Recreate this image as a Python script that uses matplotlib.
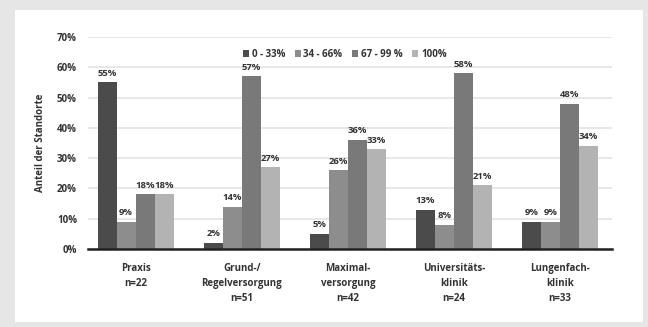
import numpy as np
import matplotlib.pyplot as plt
from matplotlib.patches import Rectangle

categories = ["Praxis\nn=22", "Grund-/\nRegelversorgung\nn=51", "Maximal-\nversorgung\nn=42",
              "Universitäts-\nklinik\nn=24", "Lungenfach-\nklinik\nn=33"]
series = ["0 - 33%", "34 - 66%", "67 - 99 %", "100%"]
values = [
    [55, 2, 5, 13, 9],
    [9, 14, 26, 8, 9],
    [18, 57, 36, 58, 48],
    [18, 27, 33, 21, 34],
]
colors = ["#4b4b4b", "#8d8d8d", "#797979", "#b3b3b3"]

plt.rcParams["font.family"] = ["Open Sans", "DejaVu Sans"]
plt.rcParams["font.weight"] = "bold"

fig = plt.figure(figsize=(6.48, 3.27), dpi=100)
fig.patch.set_facecolor("#e6e6e6")
fig.patches.append(Rectangle((15 / 648, 1 - 322 / 327), 628 / 648, 312 / 327,
                             transform=fig.transFigure, facecolor="white",
                             edgecolor="none", zorder=-10))

ax = fig.add_axes([88 / 648, 1 - 249 / 327, 524 / 648, 212 / 327])
ax.set_facecolor("none")

x = np.arange(len(categories))
w = 0.18
for i, (name, vals, c) in enumerate(zip(series, values, colors)):
    pos = x + (i - 1.5) * w
    ax.bar(pos, np.array(vals) / 100, width=w, color=c, label=name, zorder=3)
    for px, v in zip(pos, vals):
        ax.text(px, v / 100 + 0.015, f"{v}%", ha="center", va="bottom",
                fontsize=6.8, fontweight="bold", color="#333333", zorder=4)

ax.set_xlim(-0.45, 4.49)
ax.set_ylim(0, 0.70)
ax.set_yticks(np.arange(0, 0.71, 0.1))
ax.set_yticklabels([f"{int(t)}%" for t in np.arange(0, 71, 10)])
ax.grid(axis="y", color="#e3e3e3", linewidth=1.2, zorder=0)
ax.set_xticks(x)
ax.set_xticklabels(categories, fontsize=7, fontweight="bold", color="#333333",
                   linespacing=1.5)
ax.tick_params(axis="both", length=0, labelsize=7, colors="#333333")
ax.tick_params(axis="x", pad=10)
ax.tick_params(axis="y", pad=8)
for s in ["top", "right", "left"]:
    ax.spines[s].set_visible(False)
ax.spines["bottom"].set_color("#222222")
ax.spines["bottom"].set_linewidth(1.8)
ax.spines["bottom"].set_zorder(5)

ax.set_ylabel("Anteil der Standorte", fontsize=7, fontweight="bold", color="#333333",
              labelpad=8)

leg = ax.legend(loc="upper center", bbox_to_anchor=(0.49, 0.985), ncol=4, frameon=False,
                fontsize=7, handlelength=0.6, handleheight=0.6, handletextpad=0.3,
                columnspacing=1.0)
for t in leg.get_texts():
    t.set_color("#333333")

fig.savefig("out.png", dpi=100, facecolor=fig.get_facecolor())
